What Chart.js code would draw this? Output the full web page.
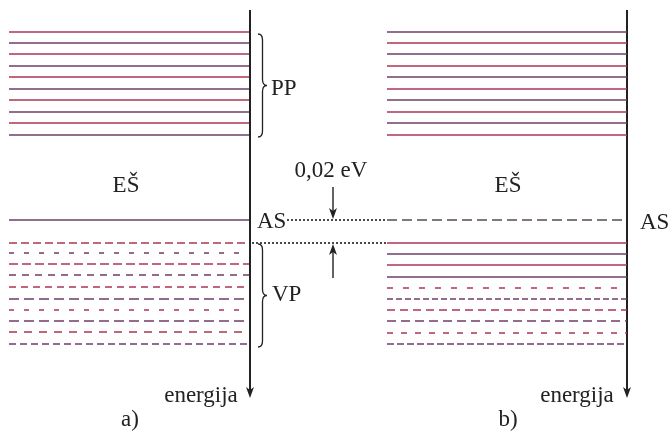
<!DOCTYPE html>
<html>
<head>
<meta charset="utf-8">
<script src="https://cdn.jsdelivr.net/npm/chart.js@4/dist/chart.umd.min.js"></script>
<style>
  body { margin: 0; background: #fff; }
  #c { display: block; }
</style>
</head>
<body>
<canvas id="c" width="670" height="434"></canvas>
<script>
// energy levels (downward = higher energy, units match the picture)
const ppLevels = [32, 43, 54, 66, 77, 89, 100, 112, 123, 135];
const asLevel = 220;
const vpLevelsA = [243, 253, 264, 275, 287, 299, 310, 321, 332, 344];
const vpSolidB = [243, 254, 265, 277];
const vpDashedB = [288, 299, 310, 321, 333, 344];
const gapLabel = '0,02 eV';
const labels = { pp: 'PP', vp: 'VP', es: 'EŠ', as: 'AS', axis: 'energija' };

// layout
const A = { x0: 9, x1: 249, axis: 250 };
const B = { x0: 387, x1: 627, axis: 627 };
const axisTop = 10, axisBottom = 398;
const colors = ['#ac3455', '#6e3c68'];
const dashA = [[8,4],[5,10],[9,4],[7,6],[7,5],[10,5],[5,10],[10,5],[8,7],[7,4]];
const dashB = [[6,10],[6,3],[8,5],[9,5],[6,8],[7,3]];

function level(x0, x1, y, color, dash, width) {
  return {
    data: [{x: x0, y: y}, {x: x1, y: y}],
    borderColor: color,
    borderWidth: width || 1.4,
    borderDash: dash || [],
    pointRadius: 0,
    fill: false
  };
}

const datasets = [];
ppLevels.forEach((y, i) => {
  datasets.push(level(A.x0, A.x1, y, colors[i % 2]));
  datasets.push(level(B.x0, B.x1, y, colors[(i + 1) % 2]));
});
datasets.push(level(A.x0, A.x1, asLevel, colors[1]));
vpLevelsA.forEach((y, i) => datasets.push(level(A.x0, A.x1, y, colors[i % 2], dashA[i])));
datasets.push(level(B.x0, B.x1, asLevel, '#5a4a5a', [10, 5]));
vpSolidB.forEach((y, i) => datasets.push(level(B.x0, B.x1, y, colors[i % 2])));
vpDashedB.forEach((y, i) => datasets.push(level(B.x0, B.x1, y, colors[i % 2], dashB[i])));
// dotted guides for the 0,02 eV gap
datasets.push(level(287, B.x0, asLevel, '#111', [2, 2], 1.5));
datasets.push(level(A.axis + 2, B.x0, vpLevelsA[0], '#111', [2, 2], 1.5));
// energy axes
datasets.push(level(A.axis, A.axis, 0, '#222', [], 2));
datasets[datasets.length - 1].data = [{x: A.axis, y: axisTop}, {x: A.axis, y: axisBottom - 6}];
datasets.push(level(B.axis, B.axis, 0, '#222', [], 2));
datasets[datasets.length - 1].data = [{x: B.axis, y: axisTop}, {x: B.axis, y: axisBottom - 6}];

const annotations = {
  id: 'annotations',
  afterDatasetsDraw(chart) {
    const ctx = chart.ctx;
    const sx = chart.scales.x, sy = chart.scales.y;
    const X = v => sx.getPixelForValue(v), Y = v => sy.getPixelForValue(v);
    ctx.save();
    ctx.fillStyle = '#222';
    ctx.strokeStyle = '#222';
    ctx.font = '23px "Liberation Serif", serif';
    ctx.textBaseline = 'middle';

    function arrowHead(x, y, dir) {
      ctx.beginPath();
      ctx.moveTo(X(x), Y(y));
      ctx.lineTo(X(x) - 4, Y(y) - dir * 11);
      ctx.lineTo(X(x), Y(y) - dir * 8);
      ctx.lineTo(X(x) + 4, Y(y) - dir * 11);
      ctx.closePath();
      ctx.fill();
    }
    function brace(x, y0, y1, w) {
      const m = (y0 + y1) / 2;
      ctx.lineWidth = 1.3;
      ctx.beginPath();
      ctx.moveTo(X(x), Y(y0));
      ctx.quadraticCurveTo(X(x + w / 2), Y(y0), X(x + w / 2), Y(y0 + 6));
      ctx.lineTo(X(x + w / 2), Y(m - 6));
      ctx.quadraticCurveTo(X(x + w / 2), Y(m), X(x + w), Y(m));
      ctx.quadraticCurveTo(X(x + w / 2), Y(m), X(x + w / 2), Y(m + 6));
      ctx.lineTo(X(x + w / 2), Y(y1 - 6));
      ctx.quadraticCurveTo(X(x + w / 2), Y(y1), X(x), Y(y1));
      ctx.stroke();
    }
    function text(s, x, y, align) {
      ctx.textAlign = align || 'left';
      ctx.fillText(s, X(x), Y(y));
    }

    // axis arrow heads
    arrowHead(A.axis, axisBottom, 1);
    arrowHead(B.axis, axisBottom, 1);

    // braces
    brace(258, ppLevels[0] + 2, ppLevels[ppLevels.length - 1] + 2, 9);
    brace(258, vpLevelsA[0] + 1, vpLevelsA[vpLevelsA.length - 1] + 3, 9);

    // gap arrows
    ctx.lineWidth = 1.4;
    ctx.beginPath();
    ctx.moveTo(X(333), Y(187)); ctx.lineTo(X(333), Y(asLevel - 6));
    ctx.moveTo(X(333), Y(278)); ctx.lineTo(X(333), Y(vpLevelsA[0] + 6));
    ctx.stroke();
    arrowHead(333, asLevel - 1, 1);
    arrowHead(333, vpLevelsA[0] + 1, -1);

    // labels
    text(labels.pp, 271, 89);
    text(labels.vp, 272, 295);
    text(labels.es, 126, 186, 'center');
    text(labels.es, 508, 186, 'center');
    text(labels.as, 257, 222);
    text(labels.as, 640, 223);
    text(gapLabel, 331, 171, 'center');
    text(labels.axis, 201, 396, 'center');
    text(labels.axis, 577, 396, 'center');
    text('a)', 130, 420, 'center');
    text('b)', 508, 420, 'center');
    ctx.restore();
  }
};

new Chart(document.getElementById('c'), {
  type: 'line',
  data: { datasets: datasets },
  options: {
    responsive: false,
    animation: false,
    devicePixelRatio: 1,
    layout: { padding: 0 },
    plugins: { legend: { display: false }, tooltip: { enabled: false } },
    scales: {
      x: { type: 'linear', min: 0, max: 670, display: false },
      y: { type: 'linear', min: 0, max: 434, reverse: true, display: false }
    }
  },
  plugins: [annotations]
});
</script>
</body>
</html>
